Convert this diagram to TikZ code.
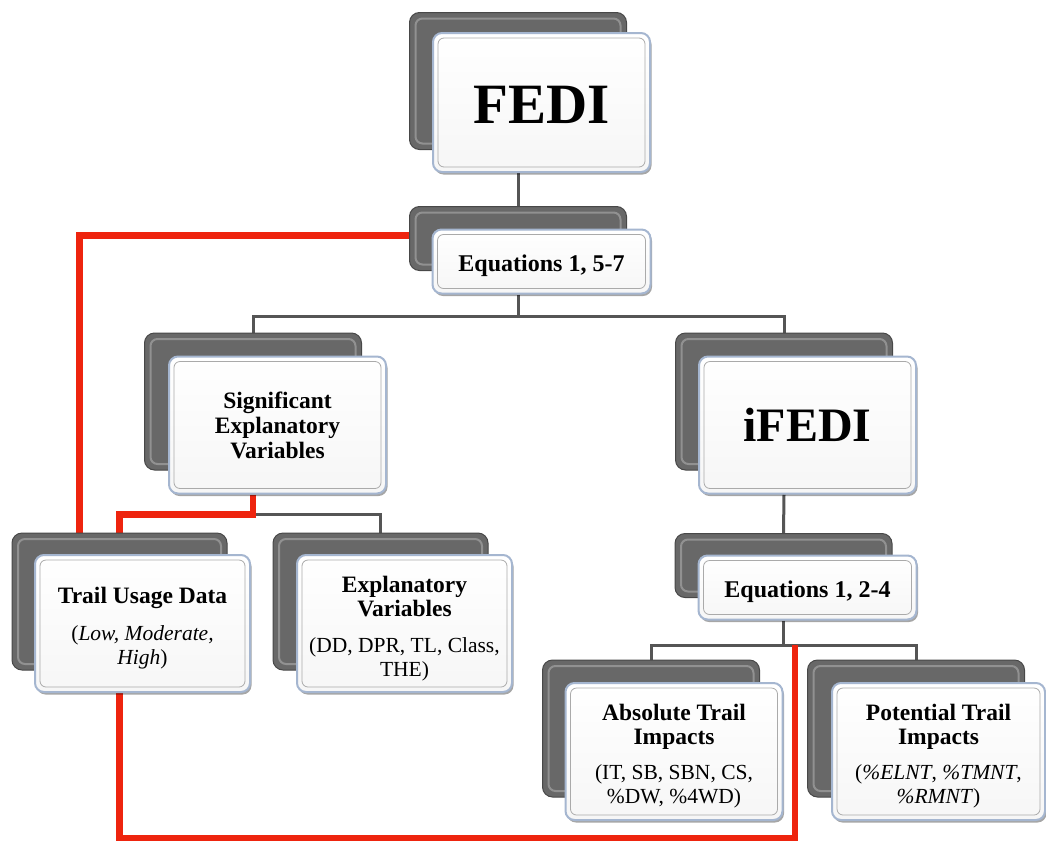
\documentclass[tikz,border=0pt]{standalone}
\usepackage{fontspec}
\setmainfont{Liberation Serif}
\usetikzlibrary{shadows,calc}
\pgfdeclarelayer{bg}
\pgfsetlayers{bg,main}
\definecolor{backgray}{RGB}{104,104,104}
\definecolor{backedge}{RGB}{72,72,72}
\definecolor{bevelc}{RGB}{145,145,145}
\definecolor{frontedge}{RGB}{165,182,208}
\definecolor{inneredge}{RGB}{170,170,170}
\definecolor{conn}{RGB}{85,85,85}
\definecolor{redline}{RGB}{238,36,14}
\newcommand\subtxt[1]{{\fontsize{21.5}{24}\selectfont #1}}
\tikzset{
  backbox/.style={draw=backedge, line width=1pt, fill=backgray, rounded corners=10pt, inner sep=0pt,
    path picture={\draw[bevelc, line width=2pt, rounded corners=7pt]
      ([shift={(6pt,-6pt)}]path picture bounding box.north west) rectangle
      ([shift={(-6pt,6pt)}]path picture bounding box.south east);}},
  frontbox/.style={draw=frontedge, line width=2pt, top color=white, bottom color=gray!7,
    rounded corners=9pt, inner sep=0pt, align=center,
    drop shadow={shadow xshift=1.5pt, shadow yshift=-2.5pt, opacity=0.35, fill=black},
    font=\fontsize{23.5}{24}\selectfont,
    path picture={\draw[inneredge, line width=0.8pt, rounded corners=6pt]
      ([shift={(5pt,-5pt)}]path picture bounding box.north west) rectangle
      ([shift={(-5pt,5pt)}]path picture bounding box.south east);}},
  boxtext/.style={inner sep=0pt, align=center, font=\fontsize{23.5}{24}\selectfont},
  bigback/.style={backbox, minimum width=217pt, minimum height=137pt},
  bigfront/.style={frontbox, minimum width=217pt, minimum height=137pt},
  smallback/.style={backbox, minimum width=217pt, minimum height=64pt},
  smallfront/.style={frontbox, minimum width=218pt, minimum height=64pt},
  conline/.style={conn, line width=3pt},
  redpath/.style={redline, line width=6.5pt, line join=miter},
}
\begin{document}
\begin{tikzpicture}[x=1pt,y=-1pt]
\begin{pgfonlayer}{bg}
\fill[white] (0,0) rectangle (1046,846);
\end{pgfonlayer}
\useasboundingbox (0,0) rectangle (1046,846);

% FEDI
\node[bigback] (fedib) at (518,81) {};
\node[bigfront, minimum height=139pt, font=\fontsize{57}{60}\selectfont\bfseries] (fedif) at (541.5,102.5) {};
\node[boxtext, font=\fontsize{57}{60}\selectfont\bfseries] (fedit) at ([yshift=-2pt]fedif.center) {FEDI};
% Equations 1, 5-7
\node[smallback] (eq1b) at (518,238.5) {};
\node[smallfront] (eq1f) at (541.5,261.5) {};
\node[boxtext, font=\fontsize{24}{26}\selectfont\bfseries] (eq1t) at ([yshift=-4pt]eq1f.center) {Equations 1, 5-7};
% Significant Explanatory Variables
\node[bigback] (sevb) at (253,401.5) {};
\node[bigfront] (sevf) at (277.5,425) {};
\node[boxtext, font=\fontsize{23.5}{25}\selectfont\bfseries] (sevt) at (sevf.center) {Significant\\Explanatory\\Variables};
% iFEDI
\node[bigback] (ifedib) at (784,401.5) {};
\node[bigfront] (ifedif) at (807.5,425) {};
\node[boxtext, font=\fontsize{48}{50}\selectfont\bfseries] (ifedit) at (ifedif.center) {iFEDI};
% Trail Usage Data
\node[bigback, minimum width=215pt] (tudb) at (119.5,601.5) {};
\node[bigfront, minimum width=215pt] (tudf) at (142.5,623.5) {};
\node[boxtext] (tudt) at ([yshift=-5pt]tudf.center)
  {\textbf{Trail Usage Data}\\[13pt]\subtxt{(\textit{Low, Moderate,}}\\\subtxt{\textit{High})}};
% Explanatory Variables
\node[bigback, minimum width=215pt] (evb) at (380.5,601.5) {};
\node[bigfront, minimum width=215pt] (evf) at (404.5,623.5) {};
\node[boxtext] (evt) at ([yshift=-5pt]evf.center)
  {\textbf{Explanatory}\\\textbf{Variables}\\[12pt]\subtxt{(DD, DPR, TL, Class,}\\\subtxt{THE)}};
% Equations 1, 2-4
\node[smallback] (eq2b) at (783.5,565.5) {};
\node[smallfront] (eq2f) at (807.5,587.5) {};
\node[boxtext, font=\fontsize{24}{26}\selectfont\bfseries] (eq2t) at ([yshift=-4pt]eq2f.center) {Equations 1, 2-4};
% Absolute Trail Impacts
\node[bigback] (atib) at (651,728.5) {};
\node[bigfront] (atif) at (674,751.5) {};
\node[boxtext] (atit) at ([yshift=-4.5pt]atif.center)
  {\textbf{Absolute Trail}\\\textbf{Impacts}\\[11pt]\subtxt{(IT, SB, SBN, CS,}\\\subtxt{\%DW, \%4WD)}};
% Potential Trail Impacts
\node[bigback] (ptib) at (916,728.5) {};
\node[bigfront, minimum width=213pt] (ptif) at (938.5,751.5) {};
\node[boxtext] (ptit) at ([yshift=-4.5pt]ptif.center)
  {\textbf{Potential Trail}\\\textbf{Impacts}\\[11pt]\subtxt{(\textit{\%ELNT}, \textit{\%TMNT},}\\\subtxt{\textit{\%RMNT})}};

\coordinate (redEnd) at (795,645);

\begin{pgfonlayer}{bg}
% gray connectors
\draw[conline] (fedib.center |- fedif.south) -- (eq1b.north);
\draw[conline] (eq1b.center |- eq1f.south) -- ++(0,22) -| (sevb.north);
\draw[conline] (eq1b.center |- eq1f.south) -- ++(0,22) -| (ifedib.north);
\draw[conline] (sevb.center |- sevf.south) -- ++(0,20) -| (evb.north);
\draw[conline] (ifedib.center |- ifedif.south) -- (eq2b.north);
\draw[conline] (eq2b.center |- eq2f.south) -- ++(0,25) -| (atib.north);
\draw[conline] (eq2b.center |- eq2f.south) -- ++(0,25) -| (ptib.north);
% red connectors
\draw[redpath] ([yshift=3pt]eq1b.west) -| ([xshift=68pt]tudb.north west);
\draw[redpath] (sevb.center |- sevf.south) -- ++(0,20) -| (tudb.north);
\draw[redpath] (tudb.center |- tudf.south) -- ++(0,145) -| (redEnd);
\end{pgfonlayer}
\end{tikzpicture}
\end{document}
